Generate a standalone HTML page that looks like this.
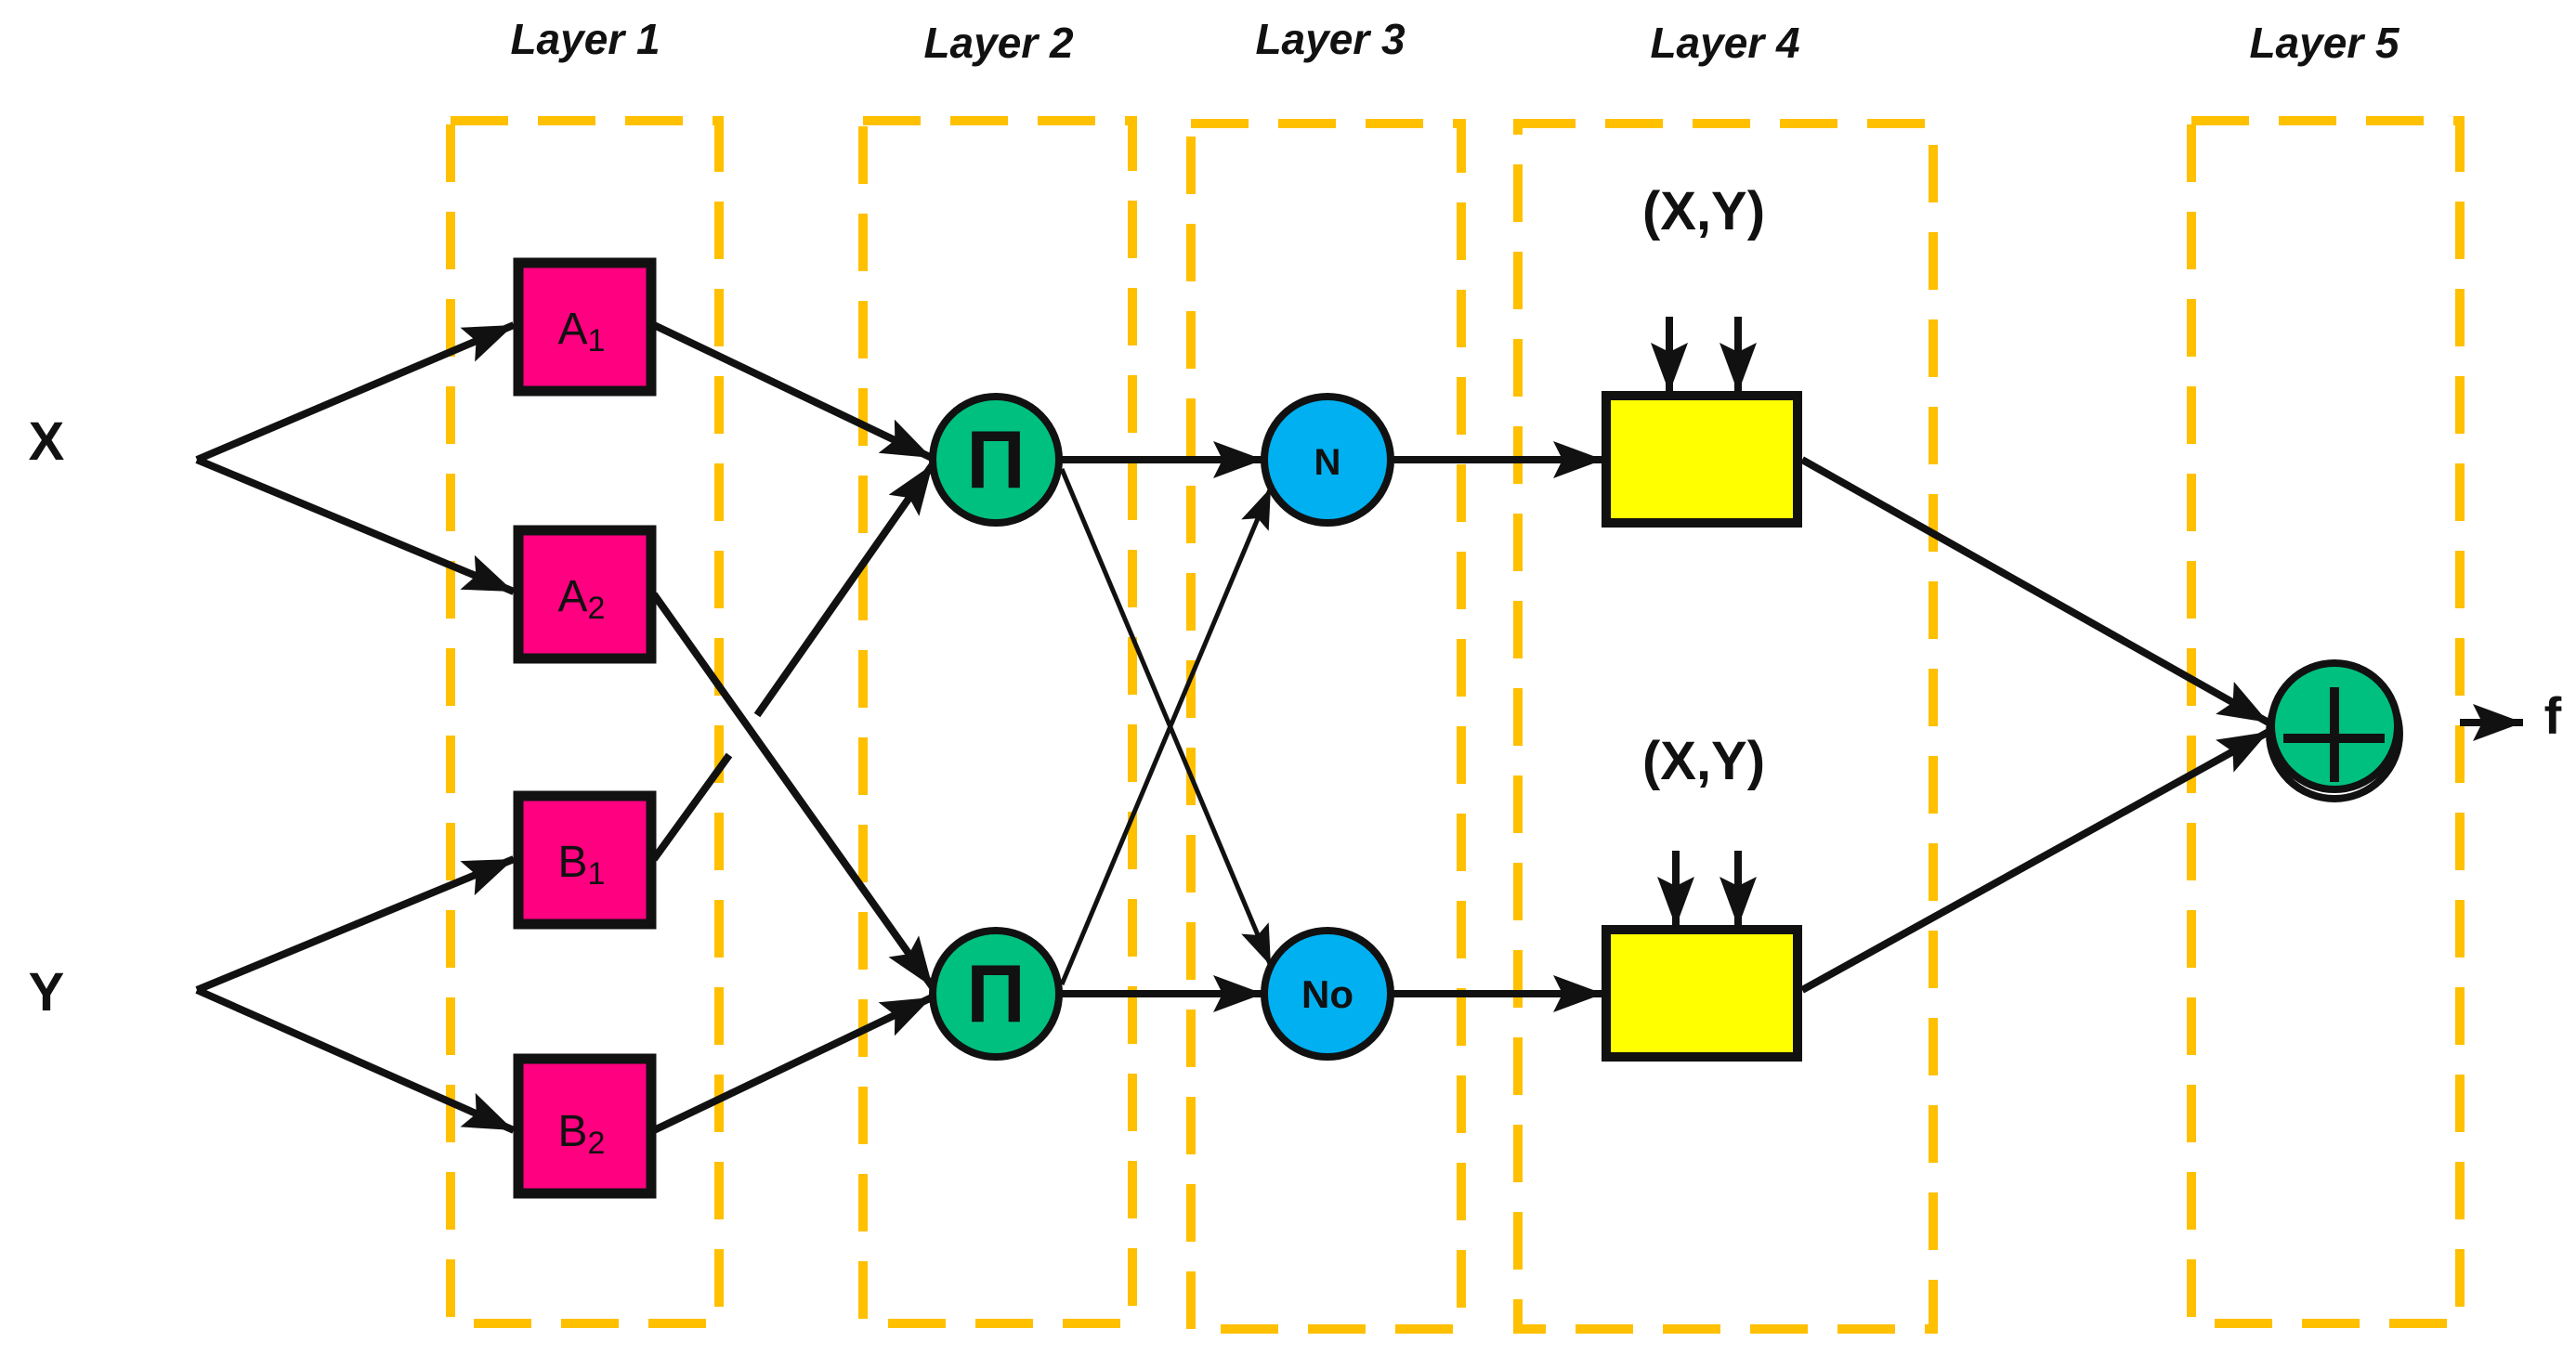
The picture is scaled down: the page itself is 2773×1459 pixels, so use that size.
<!DOCTYPE html>
<html><head><meta charset="utf-8"><style>
html,body{margin:0;padding:0;background:#fff;}
svg{display:block;}
text{font-family:"Liberation Sans",sans-serif;}
</style></head><body>
<svg width="2773" height="1459" viewBox="0 0 2773 1459" xmlns="http://www.w3.org/2000/svg">
<defs>
<marker id="a" markerWidth="56" markerHeight="44" refX="54" refY="22" orient="auto" markerUnits="userSpaceOnUse" viewBox="0 0 56 44">
<path d="M0,2 L54,22 L0,42 L10,22 z" fill="#111"/>
</marker>
<marker id="s" markerWidth="46" markerHeight="36" refX="44" refY="18" orient="auto" markerUnits="userSpaceOnUse" viewBox="0 0 46 36">
<path d="M0,2 L44,18 L0,34 L8,18 z" fill="#111"/>
</marker>
</defs>
<!-- dashed layer boxes -->
<g fill="none" stroke="#FFC000" stroke-width="10" stroke-dasharray="62 32">
<rect x="485" y="130" width="289" height="1295"/>
<rect x="929" y="130" width="290" height="1295"/>
<rect x="1282" y="133" width="291" height="1298"/>
<rect x="1634" y="133" width="447" height="1298"/>
<rect x="2359" y="130" width="289" height="1295"/>
</g>
<!-- titles -->
<g font-size="46" font-weight="bold" font-style="italic" text-anchor="middle" fill="#111">
<text x="630" y="58">Layer 1</text>
<text x="1075" y="62">Layer 2</text>
<text x="1432" y="58">Layer 3</text>
<text x="1857" y="62">Layer 4</text>
<text x="2502" y="62">Layer 5</text>
</g>
<g font-size="58" text-anchor="middle" fill="#111" font-weight="bold">
<text x="50" y="495">X</text>
<text x="50" y="1088">Y</text>
<text x="1834" y="247">(X,Y)</text>
<text x="1834" y="839">(X,Y)</text>
<text x="2748" y="790" font-size="56">f</text>
</g>
<!-- lines -->
<g stroke="#111" stroke-width="8" fill="none" stroke-linecap="butt">
<line x1="212" y1="495" x2="553" y2="350" marker-end="url(#a)"/>
<line x1="212" y1="495" x2="553" y2="637" marker-end="url(#a)"/>
<line x1="212" y1="1066" x2="553" y2="925" marker-end="url(#a)"/>
<line x1="212" y1="1066" x2="553" y2="1217" marker-end="url(#a)"/>
<line x1="704" y1="350" x2="1003" y2="493" marker-end="url(#a)"/>
<line x1="704" y1="640" x2="1004" y2="1063" marker-end="url(#a)"/>
<line x1="704" y1="925" x2="785" y2="813"/>
<line x1="815" y1="770" x2="1004" y2="500" marker-end="url(#a)"/>
<line x1="704" y1="1217" x2="1003" y2="1074" marker-end="url(#a)"/>
<line x1="1143" y1="495" x2="1360" y2="495" marker-end="url(#a)"/>
<line x1="1143" y1="1070" x2="1360" y2="1070" marker-end="url(#a)"/>
<line x1="1500" y1="495" x2="1726" y2="495" marker-end="url(#a)"/>
<line x1="1500" y1="1070" x2="1726" y2="1070" marker-end="url(#a)"/>
<line x1="1940" y1="495" x2="2442" y2="778" marker-end="url(#a)"/>
<line x1="1940" y1="1066" x2="2442" y2="788" marker-end="url(#a)"/>
<line x1="2648" y1="778" x2="2716" y2="778" marker-end="url(#a)"/>
<line x1="1797" y1="341" x2="1797" y2="423" marker-end="url(#a)"/>
<line x1="1871" y1="341" x2="1871" y2="423" marker-end="url(#a)"/>
<line x1="1804" y1="916" x2="1804" y2="998" marker-end="url(#a)"/>
<line x1="1871" y1="916" x2="1871" y2="998" marker-end="url(#a)"/>
</g>
<g stroke="#111" stroke-width="5" fill="none">
<line x1="1143" y1="505" x2="1368" y2="1040" marker-end="url(#s)"/>
<line x1="1143" y1="1060" x2="1368" y2="525" marker-end="url(#s)"/>
</g>
<!-- pink boxes -->
<g fill="#FF0080" stroke="#111" stroke-width="11">
<rect x="558" y="283" width="143" height="138"/>
<rect x="558" y="571" width="143" height="138"/>
<rect x="558" y="857" width="143" height="138"/>
<rect x="558" y="1140" width="143" height="145"/>
</g>
<g font-size="48" fill="#111" text-anchor="middle">
<text x="626" y="370">A<tspan font-size="34" dy="8">1</tspan></text>
<text x="626" y="658">A<tspan font-size="34" dy="8">2</tspan></text>
<text x="626" y="944">B<tspan font-size="34" dy="8">1</tspan></text>
<text x="626" y="1234">B<tspan font-size="34" dy="8">2</tspan></text>
</g>
<!-- circles -->
<g stroke="#111" stroke-width="8">
<circle cx="1072" cy="495" r="68" fill="#00C07F"/>
<circle cx="1072" cy="1070" r="68" fill="#00C07F"/>
<circle cx="1429" cy="495" r="68" fill="#00B0F0"/>
<circle cx="1429" cy="1070" r="68" fill="#00B0F0"/>
<circle cx="2513" cy="790" r="70" fill="#fff"/>
<circle cx="2513" cy="782" r="68" fill="#00C07F"/>
</g>
<g stroke="#111" stroke-width="10">
<line x1="2458" y1="795" x2="2567" y2="795"/>
<line x1="2513" y1="740" x2="2513" y2="842"/>
</g>
<g fill="#111" text-anchor="middle">
<text x="1072" y="525" font-size="88" font-family="'DejaVu Serif',serif" font-weight="bold">Π</text>
<text x="1072" y="1100" font-size="88" font-family="'DejaVu Serif',serif" font-weight="bold">Π</text>
<text x="1429" y="511" font-size="40" font-family="'Liberation Serif',serif" font-weight="bold">N</text>
<text x="1429" y="1085" font-size="42" font-family="'Liberation Serif',serif" font-weight="bold">No</text>
</g>
<!-- yellow boxes -->
<g fill="#FFFF00" stroke="#111" stroke-width="10">
<rect x="1729" y="426" width="206" height="137"/>
<rect x="1729" y="1001" width="206" height="137"/>
</g>
</svg>
</body></html>
